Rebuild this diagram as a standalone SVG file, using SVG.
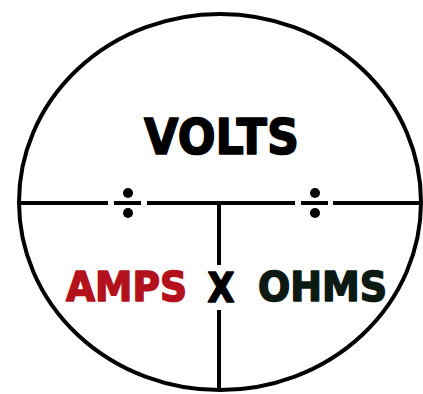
<svg xmlns="http://www.w3.org/2000/svg" width="423" height="394" viewBox="0 0 423 394">
<style>
.ln{stroke:#000;stroke-width:4;fill:none}
.t{font-family:"DejaVu Sans","Liberation Sans",sans-serif;font-weight:bold;text-anchor:middle;stroke-width:1.6;stroke-linejoin:round}
</style>
<rect width="423" height="394" fill="#fff"/>
<g id="frame">
<ellipse class="ln" cx="220" cy="202" rx="201" ry="188"/>
</g>
<g id="connectors">
<line class="ln" x1="20" y1="203" x2="108" y2="203"/>
<line class="ln" x1="147" y1="203" x2="295" y2="203"/>
<line class="ln" x1="333" y1="203" x2="421" y2="203"/>
<line class="ln" x1="219" y1="203" x2="219" y2="265"/>
<line class="ln" x1="219" y1="310" x2="219" y2="390"/>
</g>
<g id="div-left">
<line class="ln" x1="114" y1="203" x2="141" y2="203"/>
<circle cx="128" cy="193" r="5"/>
<circle cx="128" cy="213" r="5"/>
</g>
<g id="div-right">
<line class="ln" x1="301" y1="203" x2="328" y2="203"/>
<circle cx="315" cy="193" r="5"/>
<circle cx="315" cy="213" r="5"/>
</g>
<g id="volts">
<text class="t" x="221.5" y="154" font-size="50" textLength="155" lengthAdjust="spacingAndGlyphs" fill="#000" stroke="#000">VOLTS</text>
</g>
<g id="amps">
<text class="t" x="126.5" y="301" font-size="40" textLength="121" lengthAdjust="spacingAndGlyphs" fill="#b3121c" stroke="#b3121c">AMPS</text>
</g>
<g id="times">
<text class="t" x="221" y="302" font-size="41" textLength="27" lengthAdjust="spacingAndGlyphs" fill="#000" stroke="#000">X</text>
</g>
<g id="ohms">
<text class="t" x="322.5" y="301" font-size="40" textLength="129" lengthAdjust="spacingAndGlyphs" fill="#0d1a14" stroke="#0d1a14">OHMS</text>
</g>
</svg>
